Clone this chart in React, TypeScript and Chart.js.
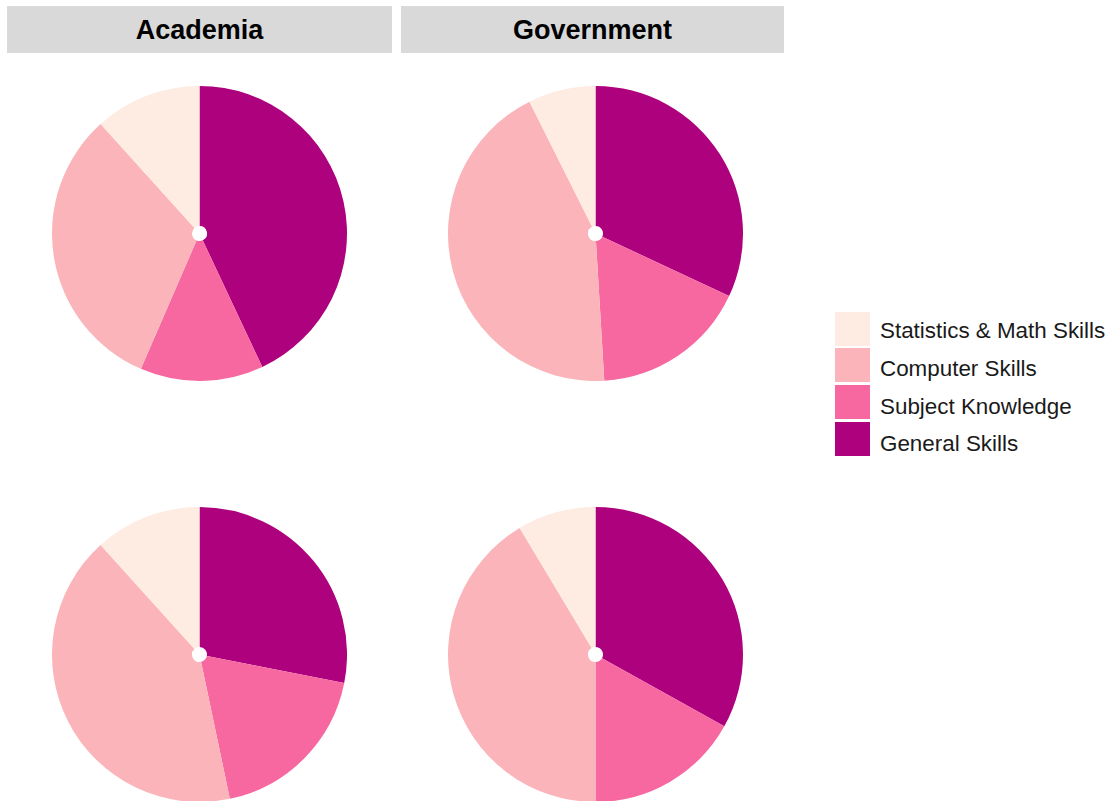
import React, { useEffect, useRef } from "react";
import { Chart, registerables } from "chart.js";

Chart.register(...registerables);

const categories = ["General Skills", "Subject Knowledge", "Computer Skills", "Statistics & Math Skills"];
const colors = ["#AE017E", "#F768A1", "#FBB4B9", "#FEEBE2"];
const stripLabels = ["Academia", "Government"];
const academiaTop = [43.0, 13.5, 31.8, 11.7];
const governmentTop = [32.0, 17.1, 43.6, 7.4];
const academiaBottom = [28.1, 18.6, 41.6, 11.7];
const governmentBottom = [33.1, 16.9, 41.4, 8.6];

const R = 147.5;

function Pie({ values, cx, cy }: { values: number[]; cx: number; cy: number }) {
  const ref = useRef<HTMLCanvasElement | null>(null);
  useEffect(() => {
    if (!ref.current) return;
    const chart = new Chart(ref.current, {
      type: "doughnut",
      data: {
        labels: categories,
        datasets: [
          {
            data: values,
            backgroundColor: colors,
            borderWidth: 0,
          },
        ],
      },
      options: {
        animation: false,
        responsive: false,
        cutout: 7.5,
        rotation: 0,
        layout: { padding: 0 },
        plugins: { legend: { display: false }, tooltip: { enabled: false } },
      },
    });
    return () => chart.destroy();
  }, [values]);
  return (
    <div style={{ position: "absolute", left: cx - R, top: cy - R, width: 2 * R, height: 2 * R }}>
      <canvas ref={ref} width={295} height={295} style={{ width: 295, height: 295, display: "block" }} />
    </div>
  );
}

export default function App() {
  const font = '"Liberation Sans", Arial, Helvetica, sans-serif';
  const strips = [
    { left: 7, width: 385 },
    { left: 401, width: 383 },
  ];
  const legendOrder = [3, 2, 1, 0];
  return (
    <div style={{ position: "absolute", left: 0, top: 0, width: 1111, height: 801, background: "#fff", overflow: "hidden", fontFamily: font }}>
      {strips.map((s, i) => (
        <div
          key={i}
          style={{
            position: "absolute",
            left: s.left,
            top: 6,
            width: s.width,
            height: 47,
            background: "#D9D9D9",
            display: "flex",
            alignItems: "center",
            justifyContent: "center",
            fontWeight: "bold",
            fontSize: 27,
            color: "#000",
          }}
        >
          <span style={{ position: "relative", top: 1 }}>{stripLabels[i]}</span>
        </div>
      ))}
      <Pie values={academiaTop} cx={199.5} cy={233.5} />
      <Pie values={governmentTop} cx={595} cy={233.5} />
      <Pie values={academiaBottom} cx={199.5} cy={654} />
      <Pie values={governmentBottom} cx={595} cy={654} />
      {legendOrder.map((ci, k) => (
        <div key={"k" + ci} style={{ position: "absolute", left: 835, top: 311.7 + k * 36.7, width: 35, height: 34, background: colors[ci] }} />
      ))}
      {legendOrder.map((ci, k) => (
        <div
          key={"t" + ci}
          style={{
            position: "absolute",
            left: 880,
            top: 331 + k * 37.8 - 17,
            height: 34,
            display: "flex",
            alignItems: "center",
            fontSize: 22.4,
            color: "#1a1a1a",
            whiteSpace: "nowrap",
          }}
        >
          {categories[ci]}
        </div>
      ))}
    </div>
  );
}
